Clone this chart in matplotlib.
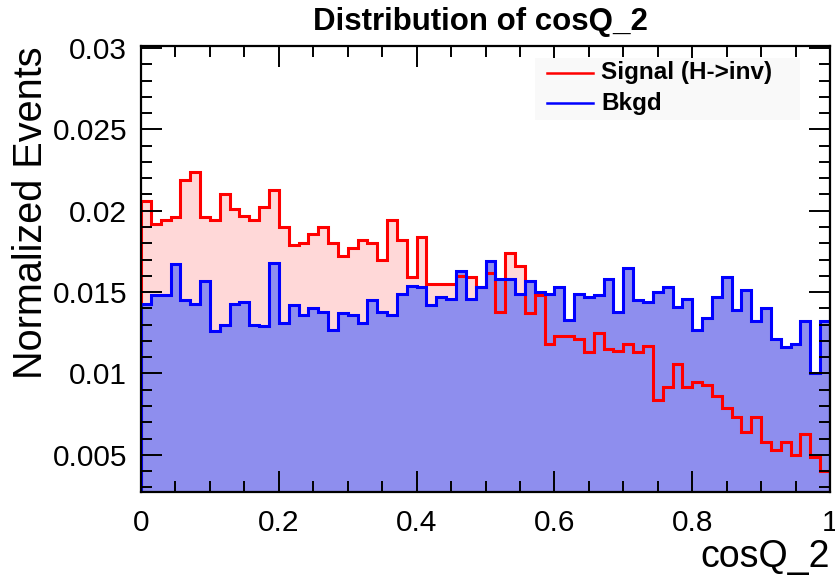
import numpy as np
import matplotlib.pyplot as plt
from matplotlib.ticker import MultipleLocator, FormatStrFormatter

plt.rcParams['font.family'] = ['Liberation Sans', 'DejaVu Sans']

# 70 bins over cosQ_2 in [0, 1]
edges = np.linspace(0.0, 1.0, 71)

signal = [
    0.0206, 0.0192, 0.0194, 0.0196, 0.0219, 0.0224, 0.0196, 0.0194, 0.0210, 0.0201,
    0.0197, 0.0194, 0.0202, 0.0213, 0.0190, 0.0179, 0.0180, 0.0186, 0.0190, 0.0180,
    0.0172, 0.0177, 0.0182, 0.0180, 0.0170, 0.0194, 0.0182, 0.0159, 0.0184, 0.0155,
    0.0155, 0.0155, 0.0160, 0.0159, 0.0153, 0.0162, 0.0138, 0.0174, 0.0166, 0.0137,
    0.0148, 0.0118, 0.0123, 0.0123, 0.0121, 0.0113, 0.0125, 0.0115, 0.0114, 0.0118,
    0.0113, 0.0117, 0.0084, 0.0092, 0.0106, 0.0092, 0.0095, 0.0093, 0.0086, 0.0079,
    0.0073, 0.0064, 0.0073, 0.0058, 0.0053, 0.0058, 0.0050, 0.0063, 0.0049, 0.0040,
]

bkgd = [
    0.0143, 0.0148, 0.0148, 0.0167, 0.0145, 0.0143, 0.0157, 0.0126, 0.0130, 0.0143,
    0.0144, 0.0130, 0.0129, 0.0168, 0.0131, 0.0142, 0.0136, 0.0140, 0.0138, 0.0127,
    0.0137, 0.0136, 0.0131, 0.0145, 0.0138, 0.0136, 0.0149, 0.0154, 0.0153, 0.0142,
    0.0147, 0.0146, 0.0163, 0.0146, 0.0153, 0.0169, 0.0158, 0.0158, 0.0149, 0.0157,
    0.0150, 0.0149, 0.0153, 0.0133, 0.0149, 0.0147, 0.0148, 0.0158, 0.0138, 0.0165,
    0.0145, 0.0144, 0.0150, 0.0153, 0.0141, 0.0146, 0.0127, 0.0134, 0.0147, 0.0159,
    0.0139, 0.0151, 0.0132, 0.0140, 0.0121, 0.0116, 0.0118, 0.0132, 0.0100, 0.0132,
]

fig = plt.figure(figsize=(8.35, 5.78), dpi=100)
ax = fig.add_axes([0.1689, 0.1488, 0.8251, 0.7716])

# fills first, then outlines so the signal line stays visible over the bkgd fill
ax.stairs(signal, edges, baseline=0, fill=True, color='#ffd8d8', lw=0)
ax.stairs(bkgd, edges, baseline=0, fill=True, color='#8e8eee', lw=0)
ax.stairs(signal, edges, baseline=0, color='#ff0000', lw=2.2)
ax.stairs(bkgd, edges, baseline=0, color='#0000ff', lw=2.2)

ax.set_xlim(0, 1)
ax.set_ylim(0.00272, 0.03012)

ax.xaxis.set_major_locator(MultipleLocator(0.2))
ax.xaxis.set_minor_locator(MultipleLocator(0.05))
ax.yaxis.set_major_locator(MultipleLocator(0.005))
ax.yaxis.set_minor_locator(MultipleLocator(0.001))
ax.xaxis.set_major_formatter(FormatStrFormatter('%g'))
ax.yaxis.set_major_formatter(FormatStrFormatter('%g'))

ax.tick_params(which='both', direction='in', top=True, right=True, width=1.4,
               labelsize=21.5, color='black')
ax.tick_params(axis='x', which='major', length=15, pad=12)
ax.tick_params(axis='x', which='minor', length=8)
ax.tick_params(axis='y', which='major', length=15, pad=10)
ax.tick_params(axis='y', which='minor', length=8)
for sp in ax.spines.values():
    sp.set_linewidth(1.6)

ax.set_xlabel('cosQ_2', fontsize=27, ha='right', va='top')
ax.xaxis.set_label_coords(1.0, -0.105)
ax.set_ylabel('Normalized Events', fontsize=28.5, loc='top', labelpad=2)

fig.text(0.575, 0.962, 'Distribution of cosQ_2', fontsize=22.5, fontweight='bold',
         ha='center', va='center')

# legend box
leg_ax = fig.add_axes([535 / 835, 1 - 120 / 578, 265 / 835, 62 / 578])
leg_ax.set_xlim(0, 1)
leg_ax.set_ylim(0, 1)
leg_ax.set_facecolor('#f9f9f9')
for sp in leg_ax.spines.values():
    sp.set_visible(False)
leg_ax.set_xticks([])
leg_ax.set_yticks([])
leg_ax.plot([0.045, 0.22], [0.76, 0.76], color='#ff0000', lw=1.8)
leg_ax.plot([0.045, 0.22], [0.27, 0.27], color='#0000ff', lw=1.8)
leg_ax.text(0.25, 0.76, 'Signal (H->inv)', fontsize=17.5, fontweight='bold', va='center')
leg_ax.text(0.25, 0.27, 'Bkgd', fontsize=17.5, fontweight='bold', va='center')

fig.savefig('out.png', dpi=100)
